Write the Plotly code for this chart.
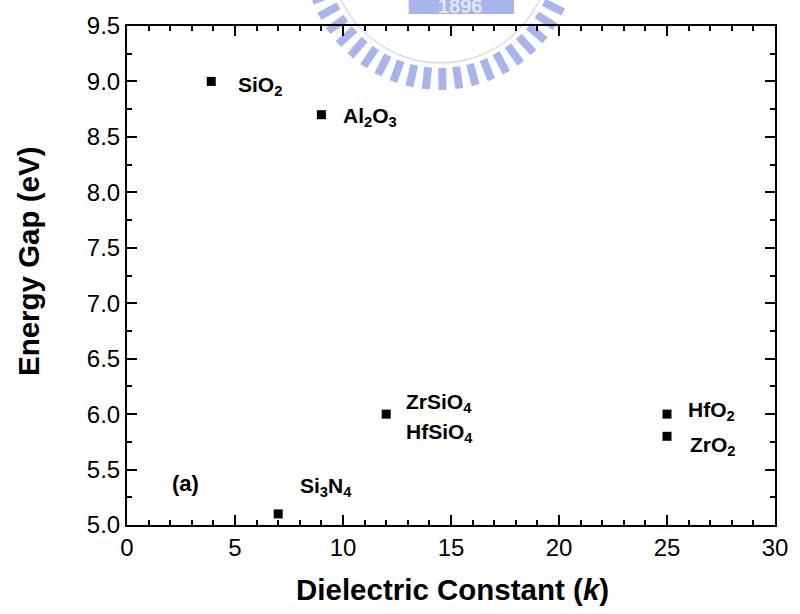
import math
import plotly.graph_objects as go

# Dielectric constant and band gap of common gate dielectrics
materials = ["SiO<sub>2</sub>", "Al<sub>2</sub>O<sub>3</sub>", "Si<sub>3</sub>N<sub>4</sub>",
             "ZrSiO<sub>4</sub>", "HfO<sub>2</sub>", "ZrO<sub>2</sub>"]
k_values = [3.9, 9, 7, 12, 25, 25]
energy_gap = [9.0, 8.7, 5.1, 6.0, 6.0, 5.8]

# label offsets (pixels) relative to each point
label_dx = [25, 20, 20, 18, 19, 21]
label_dy = [-5, -2, 27, 11, 3, -10]

x_ticks = [0, 5, 10, 15, 20, 25, 30]
y_ticks = [5.0, 5.5, 6.0, 6.5, 7.0, 7.5, 8.0, 8.5, 9.0, 9.5]

W, H = 800, 614
ML, MR, MT, MB = 127, 15, 25, 89
PW, PH = W - ML - MR, H - MT - MB

FONT = "Arial, Liberation Sans, Helvetica, sans-serif"
LABEL_SIZE = 21


def px_to_paper(px, py):
    return (px - ML) / PW, (H - MB - py) / PH


fig = go.Figure()
fig.add_trace(go.Scatter(
    x=k_values, y=energy_gap, mode="markers",
    marker=dict(symbol="square", size=9, color="black"),
    showlegend=False, hoverinfo="skip",
))

annotations = []
for name, kx, gy, dx, dy in zip(materials, k_values, energy_gap, label_dx, label_dy):
    annotations.append(dict(
        x=kx, y=gy, xref="x", yref="y", text=f"<b>{name}</b>", showarrow=False,
        xanchor="left", yanchor="middle", xshift=dx, yshift=dy,
        font=dict(family=FONT, size=LABEL_SIZE, color="black"),
    ))
# second compound sharing the ZrSiO4 point
annotations.append(dict(
    x=k_values[3], y=energy_gap[3], xref="x", yref="y", text="<b>HfSiO<sub>4</sub></b>",
    showarrow=False, xanchor="left", yanchor="middle", xshift=18, yshift=-19,
    font=dict(family=FONT, size=LABEL_SIZE, color="black"),
))
annotations.append(dict(
    x=2.0, y=5.37, xref="x", yref="y", text="<b>(a)</b>", showarrow=False,
    xanchor="left", yanchor="middle", font=dict(family=FONT, size=22, color="black"),
))

# axis titles
ax_, ay_ = px_to_paper(27, 261)
annotations.append(dict(
    x=ax_, y=ay_, xref="paper", yref="paper", text="<b>Energy Gap (eV)</b>",
    showarrow=False, textangle=-90, xanchor="center", yanchor="middle",
    font=dict(family=FONT, size=29.5, color="black"),
))
bx_, by_ = px_to_paper(458, 590)
annotations.append(dict(
    x=bx_, y=by_, xref="paper", yref="paper", text="<b>Dielectric Constant (<i>k</i>)</b>",
    showarrow=False, xanchor="center", yanchor="middle",
    font=dict(family=FONT, size=29.5, color="black"),
))

# faint seal in the top margin
shapes = []
seal_color = "rgba(130,150,225,0.7)"
cx, cy = 445, -50
for deg in range(12, 172, 7):
    a = math.radians(deg)
    x0, y0 = px_to_paper(cx + 117 * math.cos(a), cy + 117 * math.sin(a))
    x1, y1 = px_to_paper(cx + 139 * math.cos(a), cy + 139 * math.sin(a))
    shapes.append(dict(type="line", xref="paper", yref="paper", x0=x0, y0=y0, x1=x1, y1=y1,
                       line=dict(color=seal_color, width=8), layer="below"))
r = 112
cx0, cy0 = px_to_paper(cx - r, cy - r)
cx1, cy1 = px_to_paper(cx + r, cy + r)
shapes.append(dict(type="circle", xref="paper", yref="paper", x0=cx0, y0=cy0, x1=cx1, y1=cy1,
                   line=dict(color="rgba(150,165,225,0.45)", width=1.2), layer="below"))
bx0, by0 = px_to_paper(413, -10)
bx1, by1 = px_to_paper(520, 13)
shapes.append(dict(type="rect", xref="paper", yref="paper", x0=bx0, y0=by0, x1=bx1, y1=by1,
                   line=dict(width=0), fillcolor="rgba(130,150,225,0.7)", layer="below"))
tx, ty = px_to_paper(466, 5)
annotations.append(dict(
    x=tx, y=ty, xref="paper", yref="paper", text="<b>1896</b>", showarrow=False,
    xanchor="center", yanchor="middle", font=dict(family=FONT, size=20, color="rgba(235,240,255,0.9)"),
))

axis_common = dict(
    showline=True, linecolor="black", linewidth=2, mirror="ticks",
    ticks="inside", ticklen=10, tickwidth=1.5, tickcolor="black",
    showgrid=False, zeroline=False,
    tickfont=dict(family=FONT, size=24, color="black"),
)

fig.update_layout(
    width=W, height=H,
    margin=dict(l=ML, r=MR, t=MT, b=MB),
    paper_bgcolor="white", plot_bgcolor="white",
    xaxis=dict(range=[0, 30], tickvals=x_ticks, ticktext=[str(v) for v in x_ticks],
               minor=dict(ticks="inside", ticklen=5, dtick=1, tickwidth=1.5, tickcolor="black"),
               **axis_common),
    yaxis=dict(range=[5, 9.5], tickvals=y_ticks, ticktext=[f"{v:.1f}" for v in y_ticks],
               minor=dict(ticks="inside", ticklen=5, dtick=0.25, tickwidth=1.5, tickcolor="black"),
               **axis_common),
    annotations=annotations,
    shapes=shapes,
)

fig.write_html("out.html")
